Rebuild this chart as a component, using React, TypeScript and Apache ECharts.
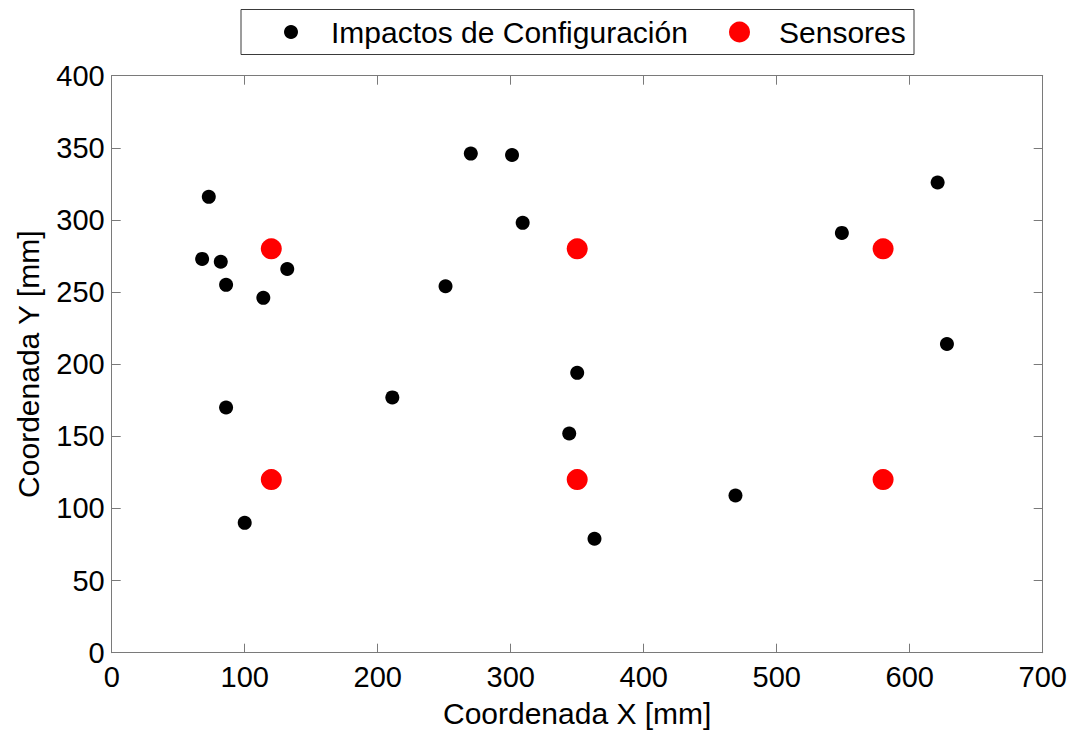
import React, { useEffect, useRef } from "react";
import * as echarts from "echarts";

const impactsX = [73, 68, 82, 132, 86, 114, 86, 100, 211, 270, 301, 309, 251, 350, 344, 363, 621, 549, 628, 469];
const impactsY = [316, 273, 271, 266, 255, 246, 170, 90, 177, 346, 345, 298, 254, 194, 152, 79, 326, 291, 214, 109];
const sensorsX = [120, 350, 580, 120, 350, 580];
const sensorsY = [280, 280, 280, 120, 120, 120];

const xMin = 0, xMax = 700, xStep = 100;
const yMin = 0, yMax = 400, yStep = 50;

const seriesNames = ["Impactos de Configuración", "Sensores"];
const xName = "Coordenada X [mm]";
const yName = "Coordenada Y [mm]";

const FONT = "'Liberation Sans', Arial, sans-serif";
const AXIS_COLOR = "#7a7a7a";

export default function App() {
  const ref = useRef<HTMLDivElement>(null);
  useEffect(() => {
    document.body.style.margin = "0";
    if (!ref.current) return;
    const chart = echarts.init(ref.current, null, { renderer: "svg" });
    const impacts = impactsX.map((x, i) => [x, impactsY[i]]);
    const sensors = sensorsX.map((x, i) => [x, sensorsY[i]]);
    const baseX = {
      type: "value" as const,
      min: xMin,
      max: xMax,
      interval: xStep,
      splitLine: { show: false },
      axisLine: { show: true, onZero: false, lineStyle: { color: AXIS_COLOR, width: 1 } },
      axisTick: { show: true, inside: true, length: 9, lineStyle: { color: AXIS_COLOR } },
    };
    const baseY = {
      type: "value" as const,
      min: yMin,
      max: yMax,
      interval: yStep,
      splitLine: { show: false },
      axisLine: { show: true, onZero: false, lineStyle: { color: AXIS_COLOR, width: 1 } },
      axisTick: { show: true, inside: true, length: 9, lineStyle: { color: AXIS_COLOR } },
    };
    chart.setOption({
      animation: false,
      backgroundColor: "#ffffff",
      textStyle: { fontFamily: FONT },
      grid: {
        left: 111.7,
        right: 34.3,
        top: 75.7,
        bottom: 79.3,
        containLabel: false,
        outerBoundsMode: "none",
      },
      legend: [
        {
          data: [seriesNames[0]],
          left: 279,
          top: 12,
          itemWidth: 14,
          itemHeight: 14,
          icon: "circle",
          textStyle: { fontSize: 30, color: "#000", fontFamily: FONT, padding: [0, 0, 0, 28] },
          selectedMode: false,
        },
        {
          data: [seriesNames[1]],
          left: 724,
          top: 12,
          itemWidth: 21,
          itemHeight: 21,
          icon: "circle",
          textStyle: { fontSize: 30, color: "#000", fontFamily: FONT, padding: [0, 0, 0, 24] },
          selectedMode: false,
        },
      ],
      graphic: [
        {
          type: "rect",
          shape: { x: 241, y: 9.5, width: 673, height: 45 },
          style: { fill: "none", stroke: "#3a3a3a", lineWidth: 1 },
          silent: true,
        },
      ],
      xAxis: [
        {
          ...baseX,
          position: "bottom",
          name: xName,
          nameLocation: "middle",
          nameGap: 46,
          nameTextStyle: { fontSize: 30, color: "#000", fontFamily: FONT },
          axisLabel: { show: true, fontSize: 29, color: "#000", margin: 10, fontFamily: FONT },
        },
        {
          ...baseX,
          position: "top",
          axisLabel: { show: false },
        },
      ],
      yAxis: [
        {
          ...baseY,
          position: "left",
          name: yName,
          nameLocation: "middle",
          nameGap: 68,
          nameTextStyle: { fontSize: 30, color: "#000", fontFamily: FONT },
          axisLabel: { show: true, fontSize: 29, color: "#000", margin: 7, fontFamily: FONT },
        },
        {
          ...baseY,
          position: "right",
          axisLabel: { show: false },
        },
      ],
      series: [
        {
          name: seriesNames[0],
          type: "scatter",
          data: impacts,
          symbol: "circle",
          symbolSize: 14,
          itemStyle: { color: "#000000", opacity: 1 },
          xAxisIndex: 0,
          yAxisIndex: 0,
        },
        {
          name: seriesNames[1],
          type: "scatter",
          data: sensors,
          symbol: "circle",
          symbolSize: 21,
          itemStyle: { color: "#ff0000", opacity: 1 },
          xAxisIndex: 0,
          yAxisIndex: 0,
        },
      ],
    });
    return () => chart.dispose();
  }, []);
  return <div ref={ref} style={{ width: 1077, height: 732 }} />;
}
